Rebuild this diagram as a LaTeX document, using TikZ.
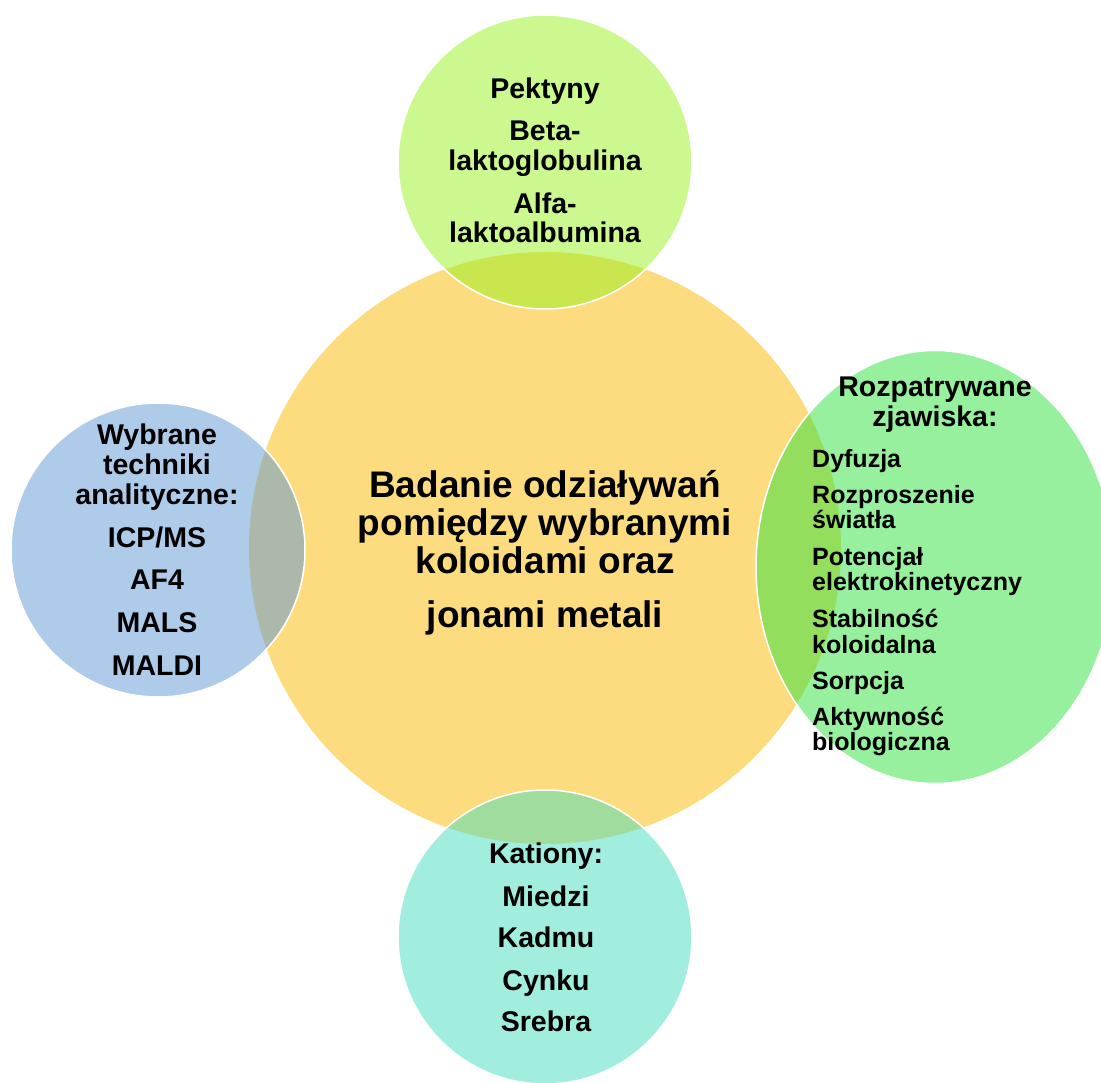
\documentclass[tikz,border=0pt]{standalone}
\usepackage{fontspec}
\setmainfont{Liberation Sans}
\usetikzlibrary{shapes.geometric}
\definecolor{cYellow}{RGB}{253,220,128}
\definecolor{cLime}{RGB}{151,241,31}
\definecolor{cBlue}{RGB}{93,151,213}
\definecolor{cGreen}{RGB}{45,225,61}
\definecolor{cCyan}{RGB}{69,221,189}
\tikzset{
  outer/.style={fill opacity=0.5, draw=white, line width=1.5pt, inner sep=0pt},
  txt/.style={anchor=base, inner sep=0pt, text=black, font=\fontsize{28.5}{33}\selectfont\bfseries},
  txtl/.style={anchor=base west, inner sep=0pt, text=black, font=\fontsize{25}{29}\selectfont\bfseries},
  txtc/.style={anchor=base, inner sep=0pt, text=black, font=\fontsize{37}{42}\selectfont\bfseries}
}
\begin{document}
\begin{tikzpicture}[x=1pt,y=-1pt]
\useasboundingbox (0,0) rectangle (1101,1083);
\clip (0,0) rectangle (1101,1083);
% central circle
\node[circle, fill=cYellow, minimum size=592pt, inner sep=0pt] (centre) at (545,548) {};
% outer shapes
\node[outer, circle, fill=cLime, minimum size=294pt] (topc) at (545,162) {};
\node[outer, circle, fill=cBlue, minimum size=294pt] (leftc) at (158,550) {};
\node[outer, ellipse, fill=cGreen, minimum width=358pt, minimum height=433pt] (rightc) at (935,567) {};
\node[outer, circle, fill=cCyan, minimum size=294pt] (botc) at (545,937) {};
% centre text
\foreach \y/\t [count=\i] in {497/{Badanie odziaływań}, 535/{pomiędzy wybranymi}, 573/{koloidami oraz}, 627/{jonami metali}}
  \node[txtc] (ct\i) at (545,\y) {\t};
% top text
\foreach \y/\t [count=\i] in {99/Pektyny, 141/Beta-, 171/laktoglobulina, 214/Alfa-, 243/laktoalbumina}
  \node[txt] (tt\i) at (545,\y) {\t};
% left text
\foreach \y/\t [count=\i] in {444/Wybrane, 474/techniki, 504/analityczne:, 547/{ICP/MS}, 589/AF4, 632/MALS, 675/MALDI}
  \node[txt] (lt\i) at (157,\y) {\t};
% right text
\node[txt] (rh1) at (935,397) {Rozpatrywane};
\node[txt] (rh2) at (935,427) {zjawiska:};
\foreach \y/\t [count=\i] in {467/Dyfuzja, 503/Rozproszenie, 528/światła, 565/Potencjał, 590/elektrokinetyczny, 627/Stabilność, 653/koloidalna, 689/Sorpcja, 725/Aktywność, 750/biologiczna}
  \node[txtl] (rt\i) at (812,\y) {\t};
% bottom text
\foreach \y/\t [count=\i] in {863/Kationy:, 906/Miedzi, 947/Kadmu, 990/Cynku, 1031/Srebra}
  \node[txt] (bt\i) at (546,\y) {\t};
\end{tikzpicture}
\end{document}
